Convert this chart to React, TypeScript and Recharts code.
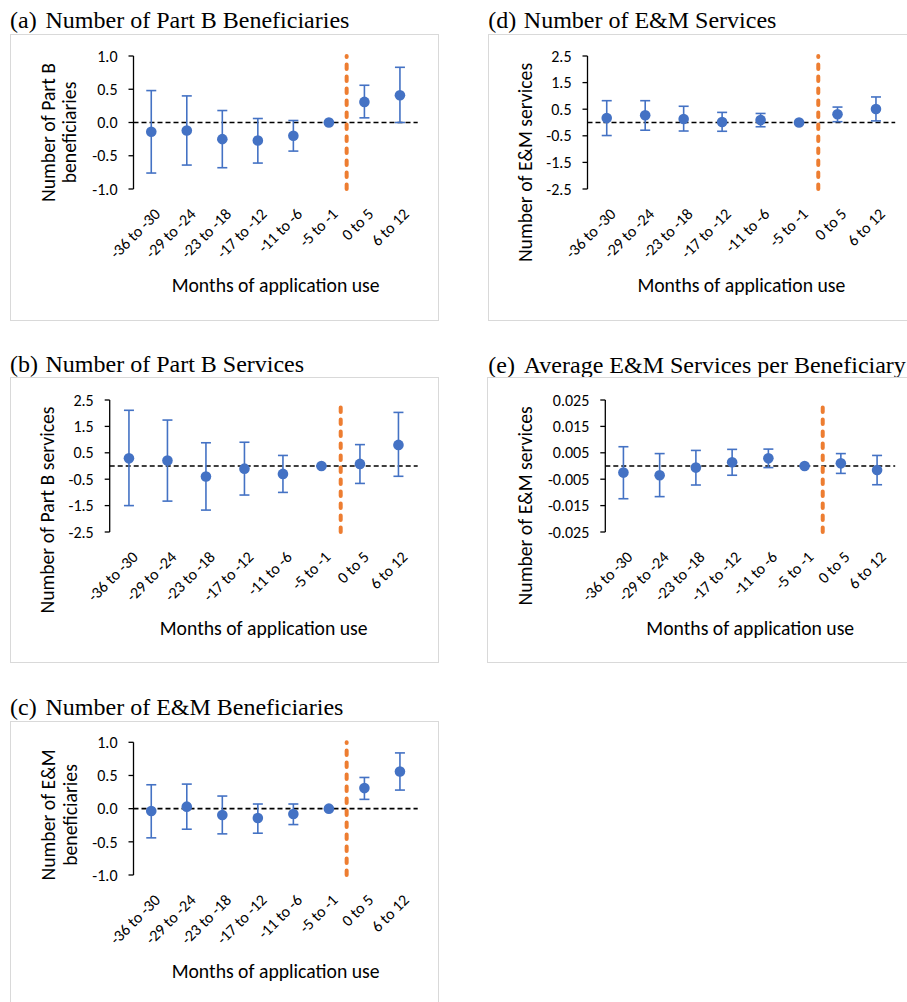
import React from "react";
import {
  ComposedChart,
  Scatter,
  ErrorBar,
  XAxis,
  YAxis,
  ReferenceLine,
  Label,
} from "recharts";

const categories = [
  "-36 to -30",
  "-29 to -24",
  "-23 to -18",
  "-17 to -12",
  "-11 to -6",
  "-5 to -1",
  "0 to 5",
  "6 to 12",
];

// (a) Number of Part B beneficiaries
const partBBenEst = [-0.14, -0.12, -0.25, -0.27, -0.2, 0, 0.31, 0.41];
const partBBenLow = [-0.76, -0.64, -0.68, -0.61, -0.43, 0, 0.07, 0.0];
const partBBenHigh = [0.48, 0.4, 0.18, 0.06, 0.03, 0, 0.56, 0.83];

// (b) Number of Part B services
const partBSvcEst = [0.29, 0.21, -0.4, -0.1, -0.3, 0, 0.08, 0.8];
const partBSvcLow = [-1.5, -1.33, -1.67, -1.1, -1.0, 0, -0.66, -0.39];
const partBSvcHigh = [2.11, 1.74, 0.88, 0.9, 0.4, 0, 0.81, 2.03];

// (c) Number of E&M beneficiaries
const emBenEst = [-0.035, 0.03, -0.095, -0.14, -0.08, 0, 0.31, 0.56];
const emBenLow = [-0.44, -0.31, -0.38, -0.37, -0.24, 0, 0.14, 0.28];
const emBenHigh = [0.36, 0.37, 0.19, 0.07, 0.07, 0, 0.47, 0.84];

// (d) Number of E&M services
const emSvcEst = [0.17, 0.27, 0.13, 0.02, 0.09, 0, 0.31, 0.51];
const emSvcLow = [-0.49, -0.29, -0.32, -0.33, -0.16, 0, 0.03, 0.06];
const emSvcHigh = [0.82, 0.82, 0.61, 0.38, 0.34, 0, 0.58, 0.96];

// (e) Average E&M services per beneficiary
const emAvgEst = [-0.0025, -0.0035, -0.0006, 0.0014, 0.0029, 0, 0.001, -0.0015];
const emAvgLow = [-0.0124, -0.0116, -0.0072, -0.0035, -0.0006, 0, -0.0028, -0.0071];
const emAvgHigh = [0.0073, 0.0047, 0.0059, 0.0063, 0.0064, 0, 0.0047, 0.004];

const ticksOne = [-1, -0.5, 0, 0.5, 1];
const ticksServices = [-2.5, -1.5, -0.5, 0.5, 1.5, 2.5];
const ticksAvg = [-0.025, -0.015, -0.005, 0.005, 0.015, 0.025];

const BLUE = "#4472C4";
const ORANGE = "#ED7D31";
const SANS = "Carlito, Calibri, Lato, sans-serif";
const SERIF = "'Liberation Serif', 'Times New Roman', serif";
const TITLE_SIZE = 24;
const TICK_SIZE = 16;
const AXIS_TITLE_SIZE = 19.7;

const rows = (est: number[], low: number[], high: number[]) =>
  categories.map((_, i) => ({
    x: i,
    est: est[i],
    err: [est[i] - low[i], high[i] - est[i]],
  }));

type Box = { left: number; top: number; width: number; height: number };
type Plot = { left: number; top: number; right: number; bottom: number };

interface PanelProps {
  tag: string;
  title: string;
  titleLeft: number;
  titleBaseline: number;
  box: Box;
  plot: Plot;
  yLines: string[];
  yLineX: number[];
  yLabelCy: number;
  ticks: number[];
  digits: number;
  data: { x: number; est: number; err: number[] }[];
}

const CatTick = (props: any) => {
  const { x, y, payload } = props;
  const tx = x + 6;
  const ty = y + 22;
  return (
    <text
      x={tx}
      y={ty}
      dy="0.35em"
      textAnchor="end"
      transform={`rotate(-45 ${tx} ${ty})`}
      fontFamily={SANS}
      fontSize={TICK_SIZE}
      fill="#000"
    >
      {categories[payload.value]}
    </text>
  );
};

function Panel(p: PanelProps) {
  const { box, plot } = p;
  const yAxisWidth = plot.left - box.left;
  const xAxisHeight = box.top + box.height - plot.bottom;
  const margin = {
    top: plot.top - box.top,
    right: box.left + box.width - plot.right,
    left: 0,
    bottom: 0,
  };
  const yMin = p.ticks[0];
  const yMax = p.ticks[p.ticks.length - 1];
  const labelCx = p.yLineX.map((v) => v - box.left);
  const labelCy = p.yLabelCy - box.top;

  return (
    <>
      <div
        style={{
          position: "absolute",
          left: p.titleLeft,
          top: p.titleBaseline - 0.8375 * TITLE_SIZE,
          fontFamily: SERIF,
          fontSize: TITLE_SIZE,
          lineHeight: 1,
          whiteSpace: "nowrap",
          color: "#000",
        }}
      >
        <span style={{ display: "inline-block", width: 35.5 }}>{p.tag}</span>
        {p.title}
      </div>
      <div
        style={{
          position: "absolute",
          left: box.left,
          top: box.top,
          width: box.width,
          height: box.height,
          boxSizing: "border-box",
          border: "1.5px solid #d9d9d9",
        }}
      />
      <div style={{ position: "absolute", left: box.left, top: box.top }}>
        <ComposedChart width={box.width} height={box.height} margin={margin}>
          <XAxis
            type="number"
            dataKey="x"
            domain={[-0.5, 7.5]}
            ticks={[0, 1, 2, 3, 4, 5, 6, 7]}
            interval={0}
            axisLine={false}
            tickLine={false}
            tickSize={0}
            tickMargin={0}
            height={xAxisHeight}
            tick={(tp: any) => <CatTick {...tp} />}
          >
            <Label
              content={(lp: any) => {
                const vb = lp.viewBox;
                return (
                  <text
                    x={vb.x + vb.width / 2}
                    y={vb.y + 102.5}
                    textAnchor="middle"
                    fontFamily={SANS}
                    fontSize={AXIS_TITLE_SIZE}
                    fill="#000"
                  >
                    Months of application use
                  </text>
                );
              }}
            />
          </XAxis>
          <YAxis
            type="number"
            dataKey="est"
            domain={[yMin, yMax]}
            ticks={p.ticks}
            interval={0}
            width={yAxisWidth}
            axisLine={{ stroke: "#000", strokeWidth: 1.3 }}
            tickLine={{ stroke: "#000", strokeWidth: 1.3 }}
            tickSize={5}
            tickMargin={11}
            tick={{ fontFamily: SANS, fontSize: TICK_SIZE, fill: "#000" }}
            tickFormatter={(v: number) => v.toFixed(p.digits)}
          >
            <Label
              content={() => (
                <g>
                  {p.yLines.map((line, i) => (
                    <text
                      key={i}
                      x={labelCx[i]}
                      y={labelCy}
                      textAnchor="middle"
                      transform={`rotate(-90 ${labelCx[i]} ${labelCy})`}
                      fontFamily={SANS}
                      fontSize={AXIS_TITLE_SIZE}
                      fill="#000"
                    >
                      {line}
                    </text>
                  ))}
                </g>
              )}
            />
          </YAxis>
          <ReferenceLine
            y={0}
            stroke="#000"
            strokeWidth={1.7}
            strokeDasharray="5 3"
          />
          <ReferenceLine
            x={5.5}
            stroke={ORANGE}
            strokeWidth={4}
            strokeLinecap="round"
            strokeDasharray="4.5 7.5"
          />
          <Scatter
            data={p.data}
            dataKey="est"
            fill={BLUE}
            isAnimationActive={false}
            shape={(sp: any) => (
              <circle cx={sp.cx} cy={sp.cy} r={5.3} fill={BLUE} />
            )}
          >
            <ErrorBar
              dataKey="err"
              direction="y"
              width={5}
              stroke={BLUE}
              strokeWidth={1.6}
              isAnimationActive={false}
            />
          </Scatter>
        </ComposedChart>
      </div>
    </>
  );
}

export default function App() {
  return (
    <div
      style={{
        position: "absolute",
        left: 0,
        top: 0,
        width: 907,
        height: 1002,
        overflow: "hidden",
        background: "#fff",
      }}
    >
      <Panel
        tag="(a)"
        title="Number of Part B Beneficiaries"
        titleLeft={10}
        titleBaseline={28.3}
        box={{ left: 10, top: 34, width: 429, height: 287 }}
        plot={{ left: 133.5, top: 56, right: 417.7, bottom: 189 }}
        yLines={["Number of Part B", "beneficiaries"]}
        yLineX={[55, 76]}
        yLabelCy={132.5}
        ticks={ticksOne}
        digits={1}
        data={rows(partBBenEst, partBBenLow, partBBenHigh)}
      />
      <Panel
        tag="(b)"
        title="Number of Part B Services"
        titleLeft={10}
        titleBaseline={371.7}
        box={{ left: 10, top: 377, width: 429, height: 286 }}
        plot={{ left: 109.7, top: 400, right: 417.7, bottom: 532 }}
        yLines={["Number of Part B services"]}
        yLineX={[54]}
        yLabelCy={510}
        ticks={ticksServices}
        digits={1}
        data={rows(partBSvcEst, partBSvcLow, partBSvcHigh)}
      />
      <Panel
        tag="(c)"
        title="Number of E&M Beneficiaries"
        titleLeft={10}
        titleBaseline={715}
        box={{ left: 10, top: 721, width: 429, height: 300 }}
        plot={{ left: 133.5, top: 742.3, right: 417.7, bottom: 875 }}
        yLines={["Number of E&M", "beneficiaries"]}
        yLineX={[55, 77]}
        yLabelCy={815}
        ticks={ticksOne}
        digits={1}
        data={rows(emBenEst, emBenLow, emBenHigh)}
      />
      <Panel
        tag="(d)"
        title="Number of E&M Services"
        titleLeft={488.3}
        titleBaseline={28.3}
        box={{ left: 488, top: 34, width: 440, height: 287 }}
        plot={{ left: 587.5, top: 56, right: 895.2, bottom: 189 }}
        yLines={["Number of E&M services"]}
        yLineX={[531.7]}
        yLabelCy={162.5}
        ticks={ticksServices}
        digits={1}
        data={rows(emSvcEst, emSvcLow, emSvcHigh)}
      />
      <Panel
        tag="(e)"
        title="Average E&M Services per Beneficiary"
        titleLeft={488.3}
        titleBaseline={372.7}
        box={{ left: 487, top: 377, width: 440, height: 286 }}
        plot={{ left: 605.3, top: 400, right: 895.2, bottom: 532 }}
        yLines={["Number of E&M services"]}
        yLineX={[531.7]}
        yLabelCy={505.8}
        ticks={ticksAvg}
        digits={3}
        data={rows(emAvgEst, emAvgLow, emAvgHigh)}
      />
    </div>
  );
}
